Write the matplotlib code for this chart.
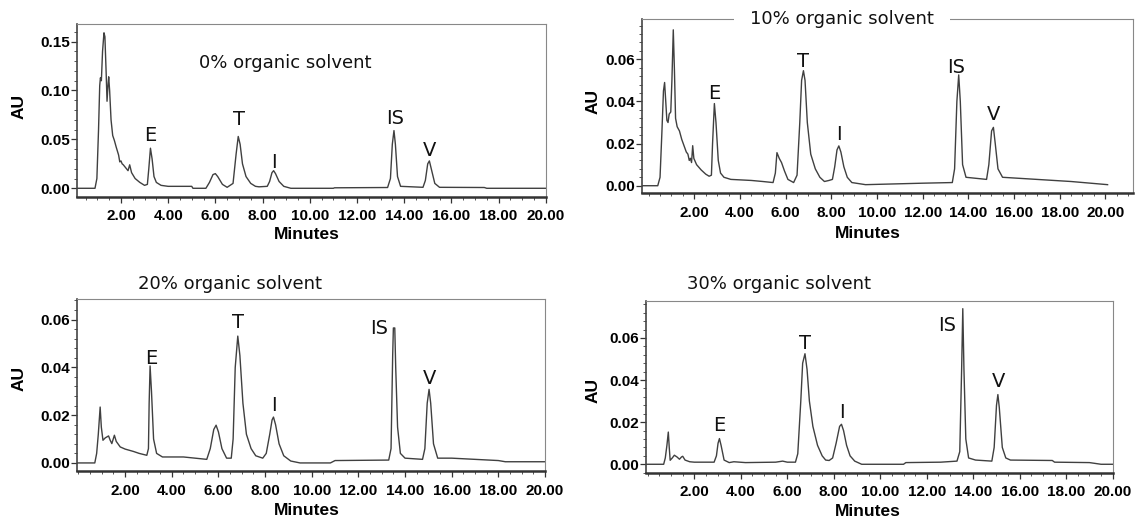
import matplotlib
matplotlib.use("Agg")
import matplotlib.pyplot as plt
from matplotlib.ticker import MultipleLocator, FormatStrFormatter

# ─────────────────────────────────────────────
# Chromatogram traces (minutes, AU)
# ─────────────────────────────────────────────
T_00 = [0.15, 0.90, 0.98, 1.05, 1.10, 1.13, 1.17, 1.22, 1.28, 1.32, 1.37, 1.41, 1.45,
        1.48, 1.52, 1.58, 1.65, 1.72, 1.80, 1.90, 1.95, 2.00, 2.05, 2.10, 2.20, 2.30,
        2.37, 2.45, 2.60, 2.80, 3.00, 3.12, 3.18, 3.25, 3.32, 3.40, 3.50, 3.70, 4.00,
        5.00, 5.05, 5.60, 5.75, 5.90, 6.00, 6.10, 6.30, 6.50, 6.75, 6.88, 6.97, 7.05,
        7.15, 7.30, 7.50, 7.70, 7.85, 8.20, 8.30, 8.40, 8.47, 8.55, 8.70, 8.90, 9.20,
        11.0, 11.05, 13.30, 13.42, 13.50, 13.57, 13.63, 13.72, 13.85, 14.80, 14.90,
        15.00, 15.07, 15.15, 15.30, 15.50, 17.40, 17.50, 20.0]
AU_00 = [0.0, 0.0, 0.010, 0.060, 0.105, 0.113, 0.110, 0.140, 0.159, 0.155, 0.120, 0.089,
         0.105, 0.114, 0.100, 0.070, 0.054, 0.049, 0.042, 0.034, 0.027, 0.028, 0.025,
         0.024, 0.021, 0.018, 0.024, 0.016, 0.010, 0.006, 0.003, 0.004, 0.020, 0.041,
         0.030, 0.012, 0.006, 0.003, 0.002, 0.002, 0.0, 0.0, 0.006, 0.014, 0.015, 0.012,
         0.004, 0.001, 0.005, 0.035, 0.053, 0.045, 0.025, 0.012, 0.005, 0.002, 0.0015,
         0.002, 0.007, 0.016, 0.018, 0.015, 0.007, 0.002, 0.0, 0.0, 0.0005, 0.0008,
         0.010, 0.045, 0.059, 0.045, 0.012, 0.002, 0.001, 0.008, 0.025, 0.028, 0.020,
         0.005, 0.001, 0.0008, 0.0, 0.0]

T_10 = [-0.29, 0.40, 0.50, 0.58, 0.65, 0.70, 0.75, 0.80, 0.85, 0.90, 0.97, 1.02, 1.08,
        1.13, 1.18, 1.25, 1.35, 1.45, 1.55, 1.65, 1.72, 1.78, 1.83, 1.88, 1.93, 1.98,
        2.10, 2.30, 2.50, 2.65, 2.75, 2.80, 2.88, 2.95, 3.05, 3.15, 3.30, 3.60, 4.50,
        5.00, 5.45, 5.55, 5.62, 5.72, 5.82, 5.95, 6.10, 6.35, 6.50, 6.62, 6.70, 6.78,
        6.85, 6.95, 7.10, 7.30, 7.50, 7.70, 7.90, 8.05, 8.15, 8.25, 8.33, 8.42, 8.55,
        8.70, 8.90, 9.50, 12.0, 13.30, 13.40, 13.50, 13.58, 13.65, 13.75, 13.90, 14.80,
        14.90, 15.02, 15.10, 15.18, 15.30, 15.50, 17.0, 18.5, 20.1]
AU_10 = [0.0, 0.0, 0.004, 0.025, 0.045, 0.049, 0.040, 0.031, 0.030, 0.034, 0.035, 0.050,
         0.074, 0.055, 0.032, 0.028, 0.026, 0.022, 0.019, 0.016, 0.015, 0.012, 0.013,
         0.011, 0.019, 0.013, 0.010, 0.0075, 0.0055, 0.0045, 0.005, 0.020, 0.039, 0.030,
         0.012, 0.006, 0.004, 0.003, 0.0025, 0.002, 0.0015, 0.006, 0.0157, 0.013, 0.011,
         0.007, 0.003, 0.0015, 0.005, 0.030, 0.050, 0.0546, 0.050, 0.030, 0.015, 0.008,
         0.004, 0.002, 0.0025, 0.003, 0.009, 0.017, 0.0189, 0.016, 0.009, 0.004, 0.0015,
         0.0005, 0.0012, 0.0015, 0.008, 0.040, 0.0526, 0.040, 0.010, 0.004, 0.003, 0.010,
         0.026, 0.0277, 0.020, 0.008, 0.004, 0.003, 0.002, 0.0005]

T_20 = [-0.05, 0.70, 0.78, 0.85, 0.93, 0.98, 1.05, 1.15, 1.29, 1.36, 1.43, 1.54, 1.62,
        1.79, 2.00, 2.36, 2.60, 2.93, 3.00, 3.03, 3.07, 3.13, 3.22, 3.35, 3.60, 4.50,
        5.00, 5.50, 5.65, 5.80, 5.90, 6.00, 6.15, 6.35, 6.55, 6.63, 6.72, 6.83, 6.92,
        7.05, 7.20, 7.40, 7.60, 7.90, 8.05, 8.20, 8.30, 8.36, 8.45, 8.60, 8.80, 9.10,
        9.50, 10.8, 11.0, 13.30, 13.40, 13.47, 13.50, 13.56, 13.60, 13.68, 13.80, 14.0,
        14.75, 14.85, 14.95, 15.03, 15.10, 15.22, 15.40, 16.0, 17.0, 18.0, 18.3, 20.0]
AU_20 = [0.0, 0.0, 0.004, 0.012, 0.0234, 0.015, 0.0095, 0.0105, 0.0113, 0.0095, 0.0081,
         0.0116, 0.009, 0.0067, 0.0058, 0.0048, 0.004, 0.0032, 0.006, 0.025, 0.0406,
         0.030, 0.010, 0.004, 0.0025, 0.0025, 0.002, 0.0015, 0.006, 0.014, 0.0158, 0.013,
         0.006, 0.002, 0.002, 0.010, 0.040, 0.0531, 0.045, 0.025, 0.012, 0.006, 0.003,
         0.002, 0.004, 0.012, 0.018, 0.0192, 0.016, 0.008, 0.003, 0.0008, 0.0, 0.0, 0.001,
         0.0012, 0.006, 0.045, 0.0565, 0.0565, 0.040, 0.015, 0.004, 0.002, 0.0015, 0.006,
         0.025, 0.0308, 0.025, 0.008, 0.002, 0.002, 0.0015, 0.001, 0.0005, 0.0005]

T_30 = [-0.08, 0.68, 0.75, 0.82, 0.88, 0.92, 0.96, 1.05, 1.14, 1.25, 1.36, 1.45, 1.50,
        1.60, 1.80, 2.00, 2.85, 2.95, 3.02, 3.08, 3.15, 3.28, 3.50, 3.70, 4.20, 5.50,
        5.80, 6.00, 6.35, 6.45, 6.58, 6.66, 6.76, 6.85, 6.95, 7.10, 7.30, 7.50, 7.65,
        7.80, 7.95, 8.10, 8.25, 8.33, 8.42, 8.55, 8.70, 8.90, 9.20, 11.0, 11.1, 12.6,
        13.30, 13.42, 13.50, 13.55, 13.60, 13.68, 13.80, 14.1, 14.80, 14.90, 15.00,
        15.06, 15.12, 15.25, 15.40, 15.60, 17.40, 17.50, 19.0, 19.5, 20.0]
AU_30 = [0.0, 0.0, 0.003, 0.009, 0.0153, 0.008, 0.0019, 0.003, 0.0043, 0.0035, 0.0024,
         0.0035, 0.0038, 0.002, 0.0012, 0.001, 0.001, 0.004, 0.010, 0.0122, 0.009, 0.002,
         0.0008, 0.0012, 0.0008, 0.001, 0.0015, 0.001, 0.001, 0.005, 0.030, 0.048, 0.0525,
         0.045, 0.030, 0.018, 0.009, 0.004, 0.002, 0.0018, 0.003, 0.010, 0.018, 0.019,
         0.016, 0.009, 0.004, 0.0015, 0.0, 0.0, 0.0008, 0.001, 0.0015, 0.006, 0.045,
         0.0739, 0.045, 0.012, 0.003, 0.002, 0.0015, 0.008, 0.028, 0.0331, 0.027, 0.008,
         0.003, 0.002, 0.0018, 0.001, 0.0008, 0.0, 0.0]

TITLES = ["0% organic solvent", "10% organic solvent",
          "20% organic solvent", "30% organic solvent"]
PEAK_NAMES = ["E", "T", "I", "IS", "V"]

# peak-letter anchors (data coords) for each panel
LABELS_00 = [(3.24, 0.054), (7.01, 0.070), (8.50, 0.0266), (13.62, 0.071), (15.06, 0.0385)]
LABELS_10 = [(2.88, 0.0436), (6.75, 0.0589), (8.33, 0.0241), (13.48, 0.056), (15.09, 0.0336)]
LABELS_20 = [(3.10, 0.0436), (6.82, 0.0587), (8.39, 0.0241), (12.89, 0.0562), (15.03, 0.0353)]
LABELS_30 = [(3.08, 0.0182), (6.78, 0.0573), (8.36, 0.0248), (12.87, 0.066), (15.08, 0.0391)]

W, H = 1136, 517


def px_rect(left, right, top, bottom):
    """Pixel box -> figure-fraction rect."""
    return [left / W, 1 - bottom / H, (right - left) / W, (bottom - top) / H]


PANELS = [
    dict(t=T_00, au=AU_00, labels=LABELS_00, title=TITLES[0],
         rect=px_rect(77.3, 545.7, 24, 196.7), xlim=(0.15, 20.0), ylim=(-0.0086, 0.168),
         ymaj=0.05, ymin=0.01, title_xy=(0.443, 0.774), boxed=False,
         ylab=(-0.124, 0.521), xlab=(0.49, -0.216)),
    dict(t=T_10, au=AU_10, labels=LABELS_10, title=TITLES[1],
         rect=px_rect(642, 1132.7, 19.3, 193.3), xlim=(-0.29, 21.2), ylim=(-0.0036, 0.079),
         ymaj=0.02, ymin=0.004, title_xy=(0.4076, 1.0), boxed=True,
         ylab=(-0.1005, 0.526), xlab=(0.46, -0.23)),
    dict(t=T_20, au=AU_20, labels=LABELS_20, title=TITLES[2],
         rect=px_rect(77.3, 545, 299.3, 471.3), xlim=(-0.05, 20.0), ylim=(-0.0035, 0.0685),
         ymaj=0.02, ymin=0.004, title_xy=(0.3265, 1.0907), boxed=False,
         ylab=(-0.124, 0.538), xlab=(0.4905, -0.229)),
    dict(t=T_30, au=AU_30, labels=LABELS_30, title=TITLES[3],
         rect=px_rect(646, 1112.7, 301.3, 472.7), xlim=(-0.08, 20.0), ylim=(-0.004, 0.0774),
         ymaj=0.02, ymin=0.004, title_xy=(0.286, 1.1027), boxed=False,
         ylab=(-0.1142, 0.481), xlab=(0.475, -0.2235)),
]

TRACE = "#404040"
BOLD = dict(family="Liberation Sans", weight="bold")


def draw_panel(fig, p):
    ax = fig.add_axes(p["rect"])
    ax.plot(p["t"], p["au"], color=TRACE, lw=1.0, solid_joinstyle="round")
    ax.set_xlim(*p["xlim"])
    ax.set_ylim(*p["ylim"])

    ax.xaxis.set_major_locator(MultipleLocator(2))
    ax.xaxis.set_minor_locator(MultipleLocator(0.5))
    ax.set_xticks([x for x in range(2, 21, 2)])
    ax.xaxis.set_major_formatter(FormatStrFormatter("%.2f"))
    ax.yaxis.set_major_locator(MultipleLocator(p["ymaj"]))
    ax.yaxis.set_minor_locator(MultipleLocator(p["ymin"]))
    ax.yaxis.set_major_formatter(FormatStrFormatter("%.2f"))
    ax.tick_params(which="major", length=4, width=0.9, color="#333333")
    ax.tick_params(which="minor", length=2.2, width=0.7, color="#555555")
    ax.tick_params(axis="x", pad=5)
    ax.tick_params(axis="y", pad=1)
    for lab in ax.get_xticklabels() + ax.get_yticklabels():
        lab.set_fontproperties(dict(BOLD, size=11))

    for side in ("top", "right"):
        ax.spines[side].set_color("#888888")
        ax.spines[side].set_linewidth(0.8)
    ax.spines["left"].set_color("#444444")
    ax.spines["left"].set_linewidth(1.2)
    ax.spines["bottom"].set_color("#333333")
    ax.spines["bottom"].set_linewidth(1.8)

    ax.set_ylabel("AU", fontsize=12.5, va="center", **BOLD)
    ax.yaxis.set_label_coords(*p["ylab"])
    ax.set_xlabel("Minutes", fontsize=12.5, va="center", **BOLD)
    ax.xaxis.set_label_coords(*p["xlab"])

    for name, (x, y) in zip(PEAK_NAMES, p["labels"]):
        ax.text(x, y, name, ha="center", va="center", fontsize=14,
                family="DejaVu Sans", color="#111111")

    kw = dict(transform=ax.transAxes, ha="center", va="center", fontsize=13,
              family="DejaVu Sans", color="#111111", clip_on=False, zorder=5)
    if p["boxed"]:
        kw["bbox"] = dict(boxstyle="square,pad=0.9", fc="white", ec="none")
    ax.text(*p["title_xy"], p["title"], **kw)
    return ax


fig = plt.figure(figsize=(W / 100, H / 100), dpi=100)
for p in PANELS:
    draw_panel(fig, p)

fig.savefig("out.png", dpi=100, facecolor="white")
plt.close(fig)
